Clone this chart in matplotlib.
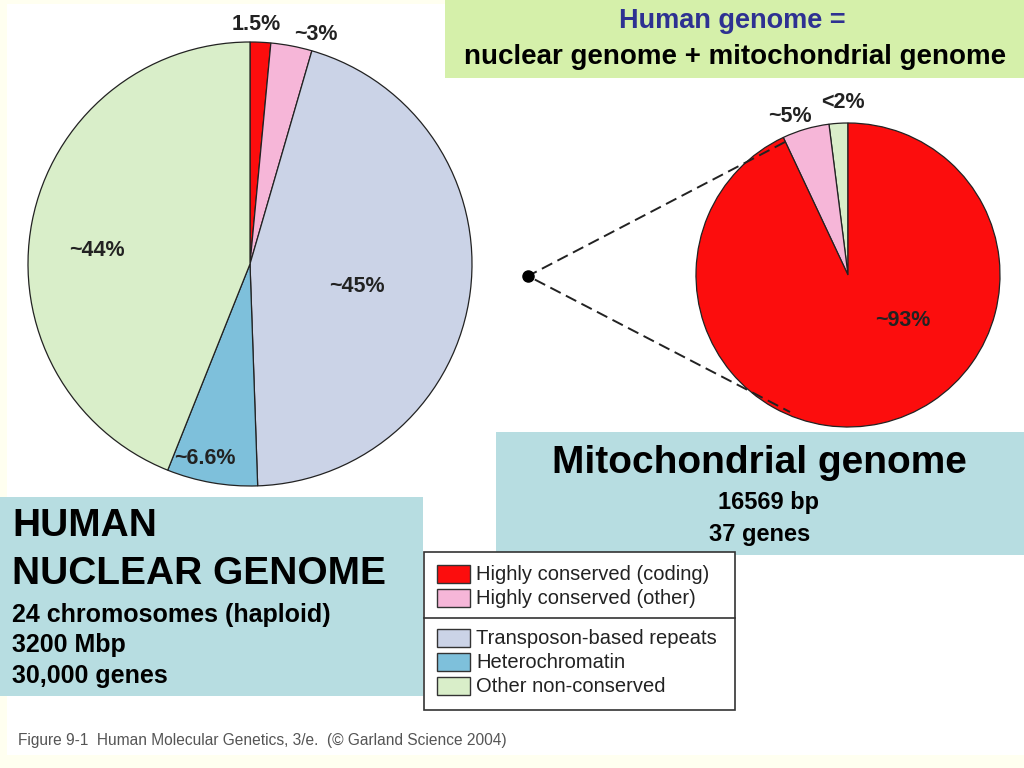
import matplotlib.pyplot as plt
from matplotlib.patches import Rectangle

plt.rcParams['font.family'] = ['Liberation Sans', 'DejaVu Sans']

# data
nuclear_labels = ['1.5%', '~3%', '~45%', '~6.6%', '~44%']
nuclear_values = [1.5, 3, 45, 6.6, 44]
mito_labels = ['<2%', '~5%', '~93%']
mito_values = [2, 5, 93]
legend_names = ['Highly conserved (coding)', 'Highly conserved (other)',
                'Transposon-based repeats', 'Heterochromatin', 'Other non-conserved']

RED = '#fc0d0d'
PINK = '#f6b6d8'
LAV = '#cbd3e7'
BLUE = '#7ec0db'
GREEN = '#d9eec9'
nuclear_colors = [RED, PINK, LAV, BLUE, GREEN]
mito_colors = [GREEN, PINK, RED]
legend_colors = [RED, PINK, LAV, BLUE, GREEN]

H = 768
def Y(y):
	# image pixel row -> data y
	return H - y

fig = plt.figure(figsize=(10.24, 7.68), dpi=100, facecolor='#fffff0')
ax = fig.add_axes([0, 0, 1, 1])

# white page
ax.add_patch(Rectangle((7, Y(755)), 1017, 751, facecolor='white', edgecolor='none', zorder=0))

# nuclear pie
wp = dict(edgecolor='#222222', linewidth=0.9)
ax.pie(nuclear_values, colors=nuclear_colors, startangle=90, counterclock=False,
       center=(250, Y(264)), radius=222, wedgeprops=wp, frame=True)
# mitochondrial pie
ax.pie(mito_values, colors=mito_colors, startangle=90, counterclock=True,
       center=(848, Y(275)), radius=152, wedgeprops=wp, frame=True)
ax.set_xlim(0, 1024)
ax.set_ylim(0, H)
ax.axis('off')

lab_kw = dict(fontsize=15.5, fontweight='bold', color='#222222', ha='center', va='center')
nuc_pos = [(256, 25), (316, 34), (357, 287), (205, 458), (97, 251)]
for t, (x, y) in zip(nuclear_labels, nuc_pos):
	ax.text(x, Y(y), t, **lab_kw)
mito_pos = [(843, 103), (790, 116), (903, 320)]
for t, (x, y) in zip(mito_labels, mito_pos):
	ax.text(x, Y(y), t, **lab_kw)

# zoom lines
ax.plot([785, 528, 790], [Y(142), Y(276), Y(412)], color='#222222', lw=1.4,
        dashes=(6, 3), zorder=1)
ax.plot([528], [Y(276)], 'o', color='black', ms=8, zorder=5)

# title box
ax.add_patch(Rectangle((445, Y(78)), 579, 78, facecolor='#d5f0aa', edgecolor='none', zorder=3))
ax.text(732, Y(21), 'Human genome =', fontsize=19.5, fontweight='bold', color='#2e3192',
        ha='center', va='center', zorder=4)
ax.text(735, Y(57), 'nuclear genome + mitochondrial genome', fontsize=20, fontweight='bold',
        color='black', ha='center', va='center', zorder=4)

# mitochondrial box
ax.add_patch(Rectangle((496, Y(555)), 528, 123, facecolor='#b7dde1', edgecolor='none', zorder=3))
ax.text(759, Y(463), 'Mitochondrial genome', fontsize=28, fontweight='bold',
        ha='center', va='center', zorder=4)
ax.text(768, Y(503), '16569 bp', fontsize=17, fontweight='bold', ha='center', va='center', zorder=4)
ax.text(760, Y(535), '37 genes', fontsize=17, fontweight='bold', ha='center', va='center', zorder=4)

# nuclear box
ax.add_patch(Rectangle((0, Y(696)), 423, 199, facecolor='#b7dde1', edgecolor='none', zorder=3))
ax.text(12, Y(526), 'HUMAN', fontsize=28, fontweight='bold', ha='left', va='center', zorder=4)
ax.text(12, Y(574), 'NUCLEAR GENOME', fontsize=28, fontweight='bold', ha='left', va='center', zorder=4)
for t, y in zip(['24 chromosomes (haploid)', '3200 Mbp', '30,000 genes'], [615, 645, 676]):
	ax.text(12, Y(y), t, fontsize=18, fontweight='bold', ha='left', va='center', zorder=4)

# legend box
ax.add_patch(Rectangle((424, Y(710)), 311, 158, facecolor='white', edgecolor='#333333',
                       linewidth=1.2, zorder=3))
ax.plot([424, 735], [Y(618), Y(618)], color='#333333', lw=1.2, zorder=4)
for name, c, y in zip(legend_names, legend_colors, [574, 598, 638, 662, 686]):
	ax.add_patch(Rectangle((437, Y(y + 9)), 33, 18, facecolor=c, edgecolor='#333333',
	                       linewidth=1, zorder=4))
	ax.text(476, Y(y), name, fontsize=14.5, color='#222222', ha='left', va='center', zorder=4)

# caption
ax.text(18, Y(740), 'Figure 9-1  Human Molecular Genetics, 3/e.  (\u00a9 Garland Science 2004)',
        fontsize=11.2, color='#555555', ha='left', va='center')

fig.savefig('out.png', dpi=100, facecolor=fig.get_facecolor())
